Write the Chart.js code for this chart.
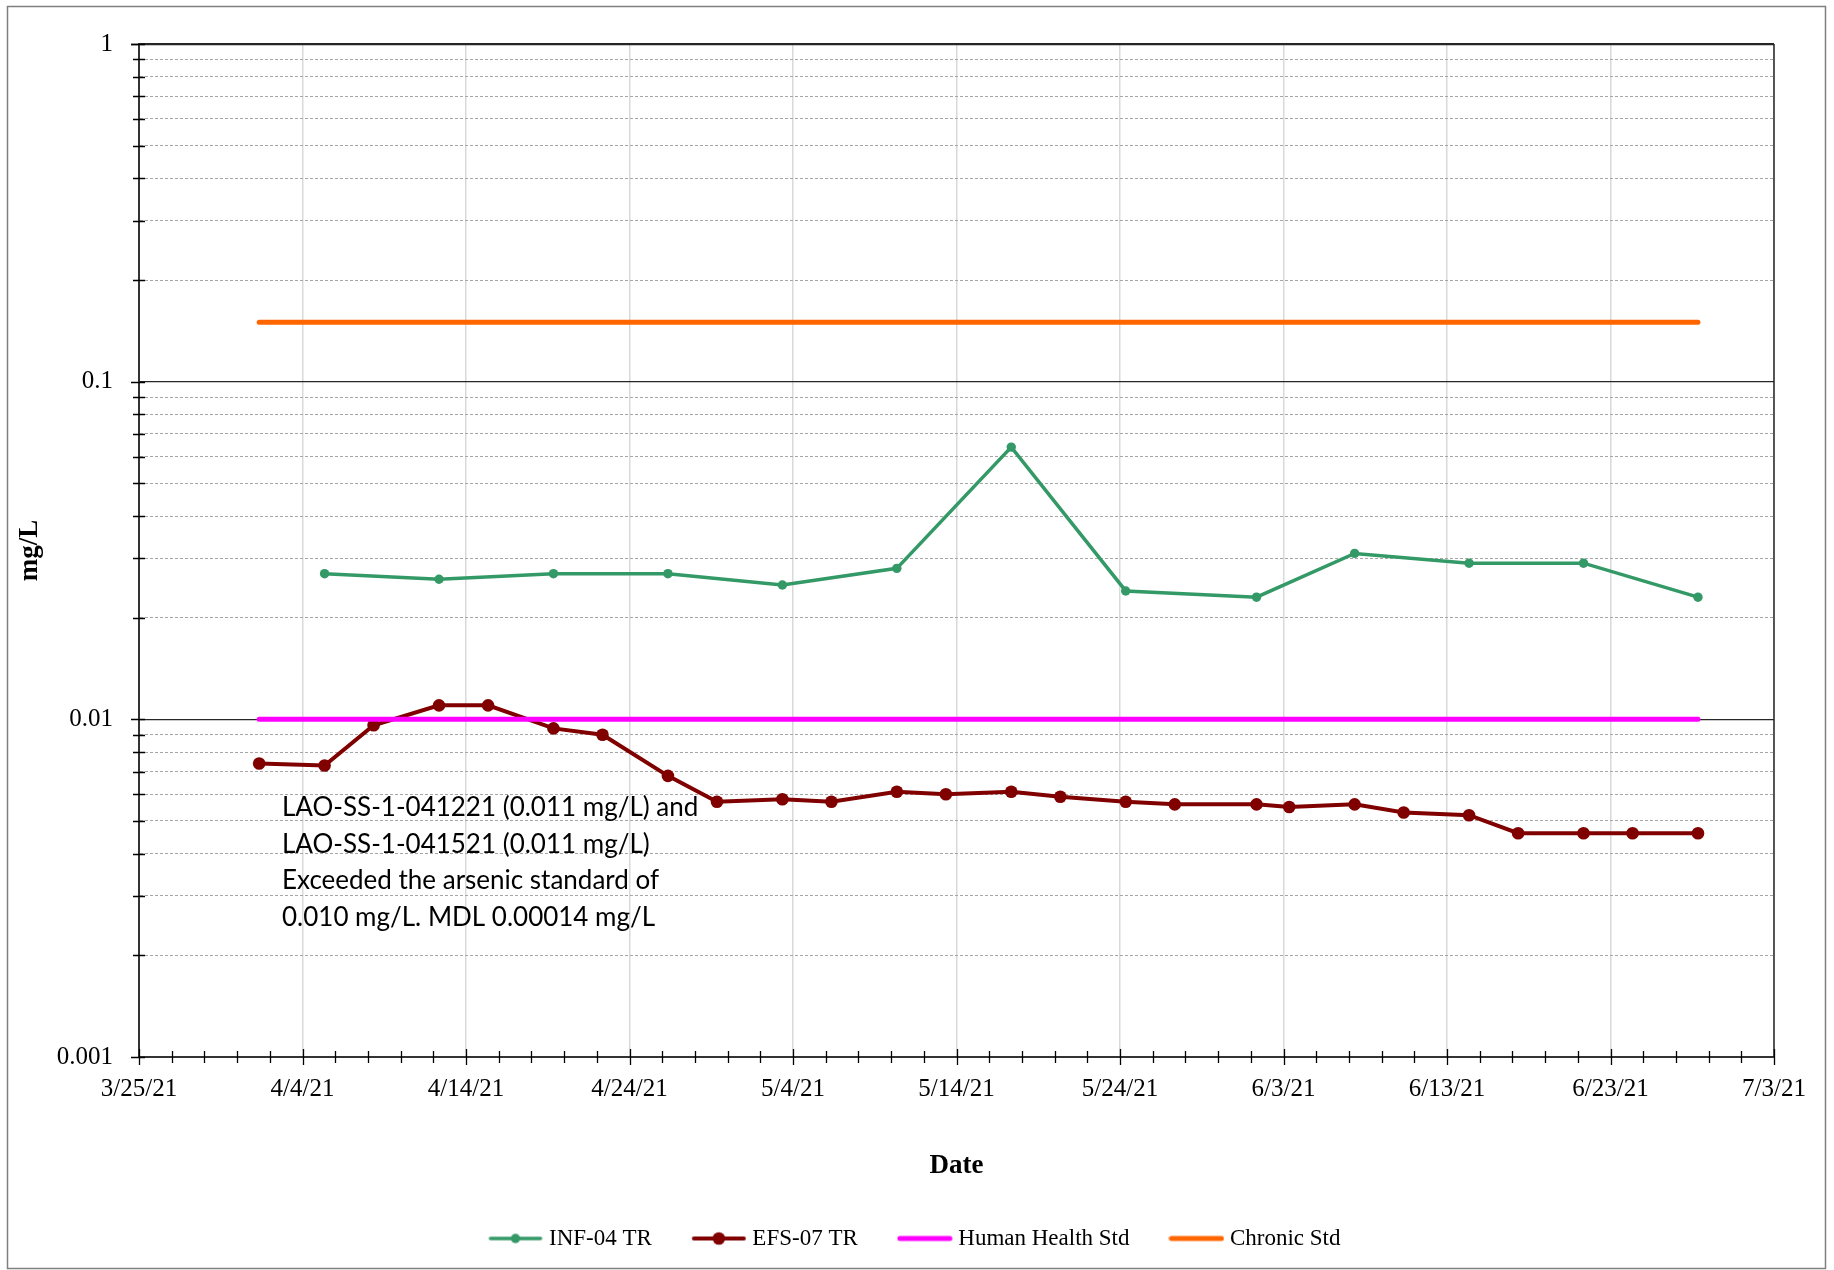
<!DOCTYPE html>
<html>
<head>
<meta charset="utf-8">
<title>INF-04 / EFS-07 Arsenic</title>
<script src="https://cdn.jsdelivr.net/npm/chart.js"></script>
<style>
  html, body { margin: 0; padding: 0; background: #fff; }
  canvas { display: block; }
</style>
</head>
<body>
<canvas id="myChart" width="1834" height="1270"></canvas>
<script>
// sample dates as they appear on the sheet (m/d/yy)
var infDates = ['4/5/21', '4/12/21', '4/19/21', '4/26/21', '5/3/21', '5/10/21', '5/17/21',
  '5/24/21', '6/1/21', '6/7/21', '6/14/21', '6/21/21', '6/28/21'];
var infValues = [0.027, 0.026, 0.027, 0.027, 0.025, 0.028, 0.064, 0.024, 0.023, 0.031, 0.029, 0.029, 0.023];

var efsDates = ['4/1/21', '4/5/21', '4/8/21', '4/12/21', '4/15/21', '4/19/21', '4/22/21', '4/26/21',
  '4/29/21', '5/3/21', '5/6/21', '5/10/21', '5/13/21', '5/17/21', '5/20/21', '5/24/21', '5/27/21',
  '6/1/21', '6/3/21', '6/7/21', '6/10/21', '6/14/21', '6/17/21', '6/21/21', '6/24/21', '6/28/21'];
var efsValues = [0.0074, 0.0073, 0.0096, 0.011, 0.011, 0.0094, 0.0090, 0.0068, 0.0057, 0.0058, 0.0057,
  0.0061, 0.0060, 0.0061, 0.0059, 0.0057, 0.0056, 0.0056, 0.0055, 0.0056, 0.0053, 0.0052, 0.0046,
  0.0046, 0.0046, 0.0046];

// standards
var stdDates = ['4/1/21', '6/28/21'];
var humanHealth = [0.01, 0.01];
var chronic = [0.15, 0.15];

// axes
var xStart = '3/25/21';
var xEnd = '7/3/21';
var yTickLabels = ['0.001', '0.01', '0.1', '1'];

var noteLines = [
  'LAO-SS-1-041221 (0.011 mg/L) and',
  'LAO-SS-1-041521 (0.011 mg/L)',
  'Exceeded the arsenic standard of',
  '0.010 mg/L. MDL 0.00014 mg/L'
];

var SAMPLE_TIME = 0.35; // samples taken in the morning, not at midnight

function dateMs(s) {
  var p = s.split('/');
  return Date.UTC(2000 + Number(p[2]), Number(p[0]) - 1, Number(p[1]));
}
function dayNum(s) {
  return (dateMs(s) - dateMs(xStart)) / 864e5;
}
function fmtDay(v) {
  var d = new Date(dateMs(xStart) + Math.round(v) * 864e5);
  return (d.getUTCMonth() + 1) + '/' + d.getUTCDate() + '/' + String(d.getUTCFullYear()).slice(2);
}
function pts(dates, values) {
  return dates.map(function (d, i) { return { x: dayNum(d) + SAMPLE_TIME, y: values[i] }; });
}
function isDecade(v) {
  var l = Math.log10(v);
  return Math.abs(l - Math.round(l)) < 1e-6;
}

function legendIcon(color, width, radius) {
  var cv = document.createElement('canvas');
  cv.width = 56;
  cv.height = 16;
  var c = cv.getContext('2d');
  c.strokeStyle = color;
  c.lineWidth = width;
  c.lineCap = 'round';
  c.beginPath();
  c.moveTo(3, 8);
  c.lineTo(53, 8);
  c.stroke();
  if (radius) {
    c.fillStyle = color;
    c.beginPath();
    c.arc(28, 8, radius, 0, Math.PI * 2);
    c.fill();
  }
  return cv;
}
var icons = [
  legendIcon('#339966', 3.5, 4.7),
  legendIcon('#800000', 4, 6.3),
  legendIcon('#ff00ff', 5, 0),
  legendIcon('#ff6600', 5, 0)
];

// white page, outer frame, right border of plot, cross tick marks
var framePlugin = {
  id: 'frame',
  beforeDraw: function (chart) {
    var c = chart.ctx;
    c.save();
    c.fillStyle = '#fff';
    c.fillRect(0, 0, chart.width, chart.height);
    c.restore();
  },
  afterDraw: function (chart) {
    var c = chart.ctx, a = chart.chartArea;
    var xs = chart.scales.x, ys = chart.scales.y;
    c.save();
    c.strokeStyle = '#7f7f7f';
    c.lineWidth = 1.5;
    c.strokeRect(7.5, 6.5, chart.width - 16, chart.height - 8);

    c.strokeStyle = '#262626';
    c.lineWidth = 1.5;
    c.beginPath();
    c.moveTo(a.right, a.top);
    c.lineTo(a.right, a.bottom);
    c.moveTo(a.left - 8, a.top + 0.5);
    c.lineTo(a.right, a.top + 0.5);
    c.stroke();

    c.strokeStyle = '#000';
    c.lineWidth = 1.3;
    c.beginPath();
    ys.ticks.forEach(function (t) {
      var py = Math.round(ys.getPixelForValue(t.value)) + 0.5;
      c.moveTo(a.left - (isDecade(t.value) ? 8 : 6), py);
      c.lineTo(a.left + 6, py);
    });
    for (var v = xs.min; v <= xs.max + 1e-9; v += 2) {
      var px = Math.round(xs.getPixelForValue(v)) + 0.5;
      var big = v % 10 === 0 ? 8 : 6;
      c.moveTo(px, a.bottom - big);
      c.lineTo(px, a.bottom + big);
    }
    c.stroke();
    c.restore();
  }
};

var notePlugin = {
  id: 'note',
  afterDatasetsDraw: function (chart) {
    var c = chart.ctx;
    c.save();
    c.font = '30px Lato';
    var size = 30 * 416 / c.measureText(noteLines[0]).width;
    c.font = size.toFixed(1) + 'px Lato';
    c.fillStyle = '#000';
    c.textBaseline = 'middle';
    c.textAlign = 'left';
    noteLines.forEach(function (t, i) {
      c.fillText(t, 282, 808 + i * 36.4);
    });
    c.restore();
  }
};

Chart.defaults.font.family = 'Liberation Serif';
Chart.defaults.color = '#000';

var ctx = document.getElementById('myChart').getContext('2d');
var myChart = new Chart(ctx, {
  type: 'line',
  data: {
    datasets: [
      {
        label: 'INF-04 TR',
        data: pts(infDates, infValues),
        borderColor: '#339966',
        backgroundColor: '#339966',
        borderWidth: 3.5,
        pointRadius: 4.7,
        pointBorderWidth: 0,
        order: 2
      },
      {
        label: 'EFS-07 TR',
        data: pts(efsDates, efsValues),
        borderColor: '#800000',
        backgroundColor: '#800000',
        borderWidth: 4,
        pointRadius: 6.3,
        pointBorderWidth: 0,
        order: 2
      },
      {
        label: 'Human Health Std',
        data: pts(stdDates, humanHealth),
        borderColor: '#ff00ff',
        backgroundColor: '#ff00ff',
        borderWidth: 5,
        borderCapStyle: 'round',
        pointRadius: 0,
        order: 1
      },
      {
        label: 'Chronic Std',
        data: pts(stdDates, chronic),
        borderColor: '#ff6600',
        backgroundColor: '#ff6600',
        borderWidth: 5,
        borderCapStyle: 'round',
        pointRadius: 0,
        order: 1
      }
    ]
  },
  options: {
    responsive: false,
    animation: false,
    events: [],
    layout: { padding: { left: 0, top: 44, right: 0, bottom: 10 } },
    plugins: {
      tooltip: { enabled: false },
      legend: {
        position: 'bottom',
        labels: {
          usePointStyle: true,
          pointStyleWidth: 44,
          padding: 45,
          color: '#000',
          font: { family: 'Liberation Serif', size: 23 },
          sort: function (a, b) { return a.datasetIndex - b.datasetIndex; },
          generateLabels: function (chart) {
            var items = Chart.defaults.plugins.legend.labels.generateLabels(chart);
            items.forEach(function (it) { it.pointStyle = icons[it.datasetIndex]; });
            return items;
          }
        }
      }
    },
    scales: {
      x: {
        type: 'linear',
        min: dayNum(xStart),
        max: dayNum(xEnd),
        ticks: {
          stepSize: 10,
          autoSkip: false,
          maxRotation: 0,
          padding: 17,
          color: '#000',
          font: { family: 'Liberation Serif', size: 25 },
          callback: function (v) { return fmtDay(v); }
        },
        grid: { color: '#d9d9d9', lineWidth: 1.5, drawTicks: false },
        border: { color: '#333', width: 2 },
        title: {
          display: true,
          text: 'Date',
          color: '#000',
          padding: 0,
          font: { family: 'Liberation Serif', size: 27, weight: 'bold' }
        },
        afterFit: function (s) { s.height = 125; }
      },
      y: {
        type: 'logarithmic',
        min: Number(yTickLabels[0]),
        max: Number(yTickLabels[yTickLabels.length - 1]),
        afterBuildTicks: function (s) {
          var t = [];
          for (var i = 0; i < yTickLabels.length - 1; i++) {
            var base = Number(yTickLabels[i]);
            for (var k = 1; k <= 9; k++) t.push({ value: +(base * k).toPrecision(6) });
          }
          t.push({ value: Number(yTickLabels[yTickLabels.length - 1]) });
          s.ticks = t;
        },
        ticks: {
          autoSkip: false,
          padding: 26,
          color: '#000',
          font: { family: 'Liberation Serif', size: 25 },
          callback: function (v) {
            var idx = yTickLabels.map(Number).indexOf(+Number(v).toPrecision(6));
            return idx >= 0 ? yTickLabels[idx] : '';
          }
        },
        grid: {
          drawTicks: false,
          color: function (c) { return c.tick && isDecade(c.tick.value) ? '#262626' : '#a6a6a6'; },
          lineWidth: function (c) { return c.tick && isDecade(c.tick.value) ? 1.3 : 1; }
        },
        border: {
          color: '#333',
          width: 2,
          dash: function (c) { return c.tick && !isDecade(c.tick.value) ? [3, 2] : []; }
        },
        title: {
          display: true,
          text: 'mg/L',
          color: '#000',
          padding: { top: 14, bottom: 0 },
          font: { family: 'Liberation Serif', size: 27, weight: 'bold' }
        },
        afterFit: function (s) { s.width = 139; }
      },
      yRight: {
        type: 'linear',
        position: 'right',
        display: true,
        grid: { display: false, drawTicks: false },
        border: { display: false },
        ticks: { display: false },
        afterFit: function (s) { s.width = 60; }
      }
    }
  },
  plugins: [framePlugin, notePlugin]
});
</script>
</body>
</html>
